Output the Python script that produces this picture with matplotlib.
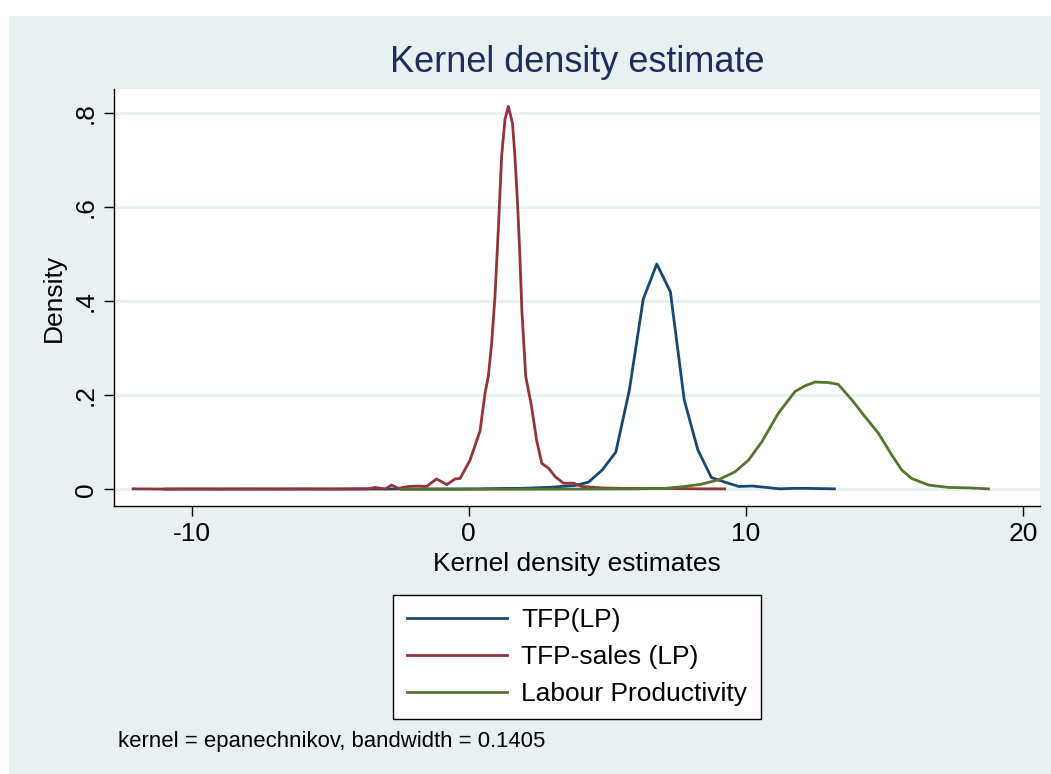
import matplotlib
matplotlib.use("Agg")
import matplotlib.pyplot as plt
from matplotlib.patches import Rectangle

plt.rcParams['font.family'] = ['Liberation Sans', 'DejaVu Sans']
plt.rcParams['axes.unicode_minus'] = False

# kdensity estimates (x grid, density)
tfp_x = [-10.97, -9.0, -7.0, -5.0, -3.0, -1.0, 0.38, 0.87, 1.37, 1.86, 2.35, 2.84,
         3.34, 3.83, 4.32, 4.82, 5.31, 5.80, 6.30, 6.79, 7.28, 7.78, 8.27, 8.76,
         9.26, 9.75, 10.24, 10.74, 11.23, 11.72, 12.22, 12.71, 13.20]
tfp_y = [0.0005, 0.0005, 0.0006, 0.0005, 0.0006, 0.0008, 0.001, 0.0015, 0.002, 0.002,
         0.003, 0.004, 0.006, 0.008, 0.015, 0.041, 0.079, 0.211, 0.404, 0.479, 0.420,
         0.190, 0.084, 0.025, 0.015, 0.006, 0.007, 0.004, 0.001, 0.002, 0.002, 0.0015,
         0.001]

sales_x = [-12.11, -11.0, -10.0, -9.0, -8.0, -7.0, -6.0, -5.0, -4.2, -3.62, -3.38,
           -3.02, -2.78, -2.54, -2.18, -1.82, -1.52, -1.16, -0.79, -0.49, -0.31,
           0.05, 0.41, 0.59, 0.71, 0.83, 0.95, 1.07, 1.19, 1.31, 1.43, 1.58, 1.67,
           1.77, 1.85, 1.92, 2.06, 2.27, 2.45, 2.64, 2.88, 3.12, 3.42, 3.78, 4.08,
           4.80, 5.5, 6.5, 7.5, 8.4, 9.24]
sales_y = [0.001, 0.0005, 0.0008, 0.0006, 0.0008, 0.0005, 0.0009, 0.0006, 0.001, 0.001,
           0.004, 0.0005, 0.009, 0.002, 0.006, 0.007, 0.006, 0.022, 0.010, 0.022, 0.023,
           0.062, 0.124, 0.204, 0.240, 0.311, 0.410, 0.552, 0.708, 0.786, 0.814, 0.779,
           0.708, 0.601, 0.495, 0.380, 0.240, 0.176, 0.105, 0.055, 0.045, 0.027, 0.013,
           0.013, 0.006, 0.003, 0.002, 0.002, 0.0015, 0.001, 0.001]

labour_x = [-2.42, 0.0, 2.0, 4.0, 6.0, 7.09, 7.8, 8.41, 9.01, 9.61, 10.10, 10.58,
            11.18, 11.78, 12.14, 12.50, 12.98, 13.34, 13.83, 14.31, 14.79, 15.27,
            15.63, 15.99, 16.6, 17.32, 18.04, 18.76]
labour_y = [0.0, 0.0, 0.0002, 0.0005, 0.001, 0.002, 0.006, 0.011, 0.020, 0.037, 0.062,
            0.101, 0.162, 0.208, 0.220, 0.228, 0.227, 0.223, 0.190, 0.154, 0.119, 0.073,
            0.041, 0.023, 0.009, 0.004, 0.003, 0.001]

series_labels = ['TFP(LP)', 'TFP-sales (LP)', 'Labour Productivity']
colors = ['#1a476f', '#90353b', '#55752f']

y_ticks = [0, 0.2, 0.4, 0.6, 0.8]
y_ticklabels = ['0', '.2', '.4', '.6', '.8']
x_ticks = [-10, 0, 10, 20]

bg = '#e8f0f2'
W, H = 1051, 774
fig = plt.figure(figsize=(W / 100, H / 100), dpi=100, facecolor='white')
fig.patches.append(Rectangle((9 / W, 0), 1 - 9 / W, 1 - 16 / H,
                             transform=fig.transFigure, facecolor=bg,
                             edgecolor='none', zorder=-10))

ax = fig.add_axes([114 / W, 1 - 506 / H, (1040 - 114) / W, (506 - 89) / H])
ax.set_facecolor('white')

for x, y, lab, c in zip([tfp_x, sales_x, labour_x], [tfp_y, sales_y, labour_y],
                        series_labels, colors):
    ax.plot(x, y, color=c, lw=2.0, label=lab, zorder=3)

ax.set_xlim(-12.8, 20.62)
ax.set_ylim(-0.0355, 0.851)
ax.set_yticks(y_ticks)
ax.set_yticklabels(y_ticklabels, rotation=90, va='center')
ax.set_xticks(x_ticks)
ax.set_xticklabels([str(t) for t in x_ticks])
ax.grid(axis='y', color=bg, lw=2)
ax.grid(axis='x', visible=False)
ax.set_axisbelow(True)

for s in ['top', 'right']:
    ax.spines[s].set_visible(False)
for s in ['left', 'bottom']:
    ax.spines[s].set_linewidth(1.0)
    ax.spines[s].set_color('black')
ax.tick_params(direction='out', length=7.5, width=1.0, labelsize=19, pad=4)

ax.set_xlabel('Kernel density estimates', fontsize=19, labelpad=4)
ax.set_ylabel('Density', fontsize=19, labelpad=6)
ax.set_title('Kernel density estimate', fontsize=26, color='#1e2d5c', pad=12)

leg = fig.legend(loc='center', bbox_to_anchor=((390 + 764) / 2 / W, 1 - (595 + 719) / 2 / H),
                 fontsize=19, handlelength=3.8, handletextpad=0.55,
                 labelspacing=0.5, borderpad=0.5, fancybox=False,
                 framealpha=1, edgecolor='black')
leg.get_frame().set_linewidth(1.0)

fig.text(118 / W, 1 - 741 / H, 'kernel = epanechnikov, bandwidth = 0.1405',
         fontsize=15.9, va='center', ha='left')

fig.savefig('out.png', dpi=100, facecolor='white')
